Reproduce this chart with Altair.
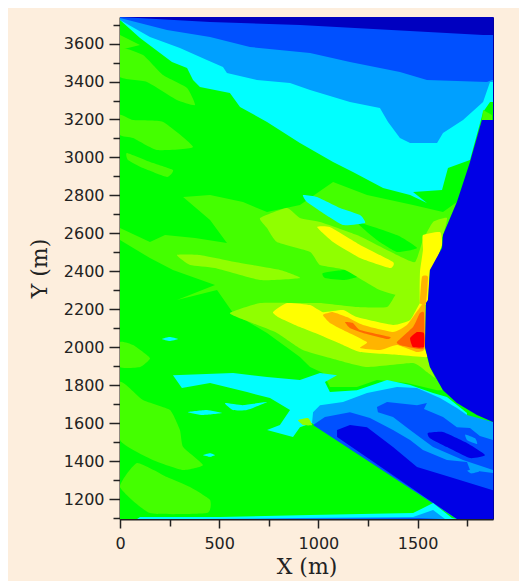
import altair as alt
import pandas as pd

X_DOMAIN = [0, 1880]
Y_DOMAIN = [1095, 3740]
X_MAJOR = [0, 500, 1000, 1500]
X_MINOR = [250, 750, 1250, 1750]
Y_MAJOR = [1200, 1400, 1600, 1800, 2000, 2200, 2400, 2600, 2800, 3000, 3200, 3400, 3600]
Y_MINOR = [1100, 1300, 1500, 1700, 1900, 2100, 2300, 2500, 2700, 2900, 3100, 3300, 3500, 3700]

LEVELS = ["deep", "navy", "blue", "sky", "cyan", "green", "lime", "yg", "yellow", "orange", "hot", "red"]
COLORS = ["#0000c0", "#0000e6", "#0050ff", "#00a0ff", "#00ffff", "#00ff00",
          "#44ff00", "#90ff00", "#ffff00", "#ffb400", "#ff6a00", "#ff0000"]

BASE = [(0, 1095), (1880, 1095), (1880, 3740), (0, 3740)]
CYAN_TOP = [(0,3724),(101,3629),(262,3503),(338,3471),(368,3408),(403,3371),(554,3340),(605,3266),(741,3187),(907,3076),(1074,2976),(1174,2923),(1326,2839),(1462,2802),(1547,2760),(1477,2818),(1623,2828),(1653,2944),(1764,2987),(1830,3239),(1865,3292),(1880,3292),(1880,3740),(0,3740)]
SKY_TOP = [(0,3724),(151,3635),(302,3577),(438,3514),(519,3477),(539,3445),(690,3408),(857,3392),(958,3355),(1159,3292),(1310,3261),(1351,3187),(1411,3102),(1462,3076),(1598,3076),(1628,3129),(1729,3197),(1830,3292),(1865,3398),(1880,3398),(1880,3740),(0,3740)]
BLUE_TOP = [(0,3735),(237,3672),(454,3635),(655,3582),(958,3550),(1159,3503),(1411,3450),(1547,3408),(1850,3398),(1875,3408),(1880,3408),(1880,3740),(0,3740)]
DEEP_TOP = [(0,3740),(1880,3740),(1880,3645),(1830,3645),(907,3698),(454,3714)]

LIME_A = [(0,3577),(116,3540),(217,3434),(338,3366),(378,3276),(287,3303),(136,3398),(0,3424)]
LIME_B = [(0,3645),(101,3592),(0,3566)]
LIME_C = [(0,3224),(66,3197),(217,3187),(368,3055),(186,3039),(66,3102),(0,3118)]
LIME_D = [(35,3023),(151,2976),(267,2934),(237,2897),(116,2944),(40,2987)]
LIME_MAIN = [(318,2792),(454,2802),(620,2765),(741,2712),(907,2749),(1074,2871),(1245,2802),(1477,2749),(1628,2712),(1698,2765),(1628,2591),(1562,2407),(1542,2233),(1537,2001),(1562,1896),(1628,1774),(1598,1774),(1446,1811),(1295,1827),(1194,1790),(1058,1790),(1023,1864),(958,1896),(907,1948),(741,2075),(570,2180),(489,2301),(287,2249),(479,2328),(267,2407),(151,2470),(0,2565),(0,2628),(151,2554),(227,2591),(378,2575),(539,2549),(454,2670)]
LIME_E = [(0,2027),(66,2012),(151,1943),(101,1896),(0,1896)]
LIME_F = [(0,1817),(116,1722),(252,1669),(302,1564),(318,1474),(418,1379),(318,1353),(166,1406),(0,1511)]
LIME_G = [(86,1390),(237,1316),(353,1263),(454,1195),(438,1126),(151,1126),(0,1263)]
GREEN_SLIVER = [(1194,2660),(1396,2591),(1497,2523),(1396,2502),(1295,2565)]
GREEN_SPOT = [(1023,2391),(1134,2407),(1225,2380),(1134,2354),(1033,2365)]

YG_UPPER = [(907,2681),(1008,2660),(1194,2591),(1396,2486),(1487,2449),(1527,2565),(1578,2660),(1648,2681),(1628,2591),(1562,2407),(1552,2249),(1487,2249),(1310,2301),(1134,2407),(1008,2433),(958,2502),(791,2554),(741,2628),(706,2681),(842,2734)]
YG_STREAK = [(287,2486),(403,2486),(580,2449),(806,2407),(907,2365),(706,2354),(479,2417),(353,2433)]
YG_CENTER = [(554,2180),(706,2233),(907,2233),(1008,2233),(1194,2212),(1346,2212),(1396,2286),(1497,2312),(1542,2249),(1537,2001),(1562,1896),(1588,1838),(1547,1869),(1477,1917),(1245,1896),(1094,1933),(922,1985),(791,2075),(655,2133)]
YELLOW_CENTER = [(771,2185),(842,2233),(958,2222),(1023,2185),(1124,2196),(1194,2159),(1376,2117),(1462,2143),(1512,2233),(1537,2233),(1537,1996),(1547,1948),(1411,1959),(1210,1975),(1124,2012),(1008,2064),(907,2106),(806,2154)]
YELLOW_STREAK = [(993,2633),(1058,2633),(1210,2539),(1376,2449),(1361,2417),(1210,2470),(1074,2554)]
YELLOW_EDGE = [(1527,2591),(1613,2607),(1623,2539),(1572,2396),(1562,2407),(1552,2233),(1512,2233),(1512,2396),(1527,2512)]
ORANGE_EDGE = [(1522,2370),(1552,2370),(1542,2233),(1512,2233)]
ORANGE_CENTER = [(1023,2170),(1074,2185),(1144,2159),(1225,2117),(1376,2080),(1446,2117),(1502,2196),(1537,2233),(1537,1996),(1497,1975),(1396,2012),(1310,1985),(1210,1996),(1245,2027),(1124,2091),(1058,2128)]
HOT_STREAK = [(1134,2133),(1174,2128),(1210,2091),(1361,2054),(1346,2043),(1225,2075),(1159,2101)]
HOT_CORE = [(1396,2027),(1477,2106),(1512,2180),(1532,2180),(1532,1996),(1477,1996),(1411,2012)]
RED_CORE = [(1462,2048),(1497,2080),(1532,2075),(1532,2001),(1477,2001)]

CYAN_BLOB = [(922,2802),(993,2792),(1109,2734),(1210,2697),(1235,2655),(1124,2644),(1023,2707),(942,2765)]
CYAN_DASH_A = [(212,2044),(250,2054),(292,2044),(250,2033)]
CYAN_DASH_B = [(343,1658),(438,1669),(514,1653),(418,1643)]
CYAN_DASH_C = [(529,1706),(620,1695),(741,1711),(640,1669),(570,1669)]
CYAN_DASH_D = [(418,1432),(454,1442),(479,1432),(454,1422)]
CYAN_MID = [(267,1853),(570,1864),(741,1843),(907,1827),(1008,1864),(1094,1853),(1033,1817),(1058,1764),(1194,1774),(1346,1827),(1462,1801),(1578,1759),(1648,1738),(1749,1653),(1698,1100),(968,1601),(907,1579),(872,1527),(741,1564),(806,1590),(857,1669),(756,1732),(640,1764),(454,1811),(312,1785)]
YG_SPOT = [(897,1616),(948,1627),(968,1590),(922,1590)]

SKY_LOW = [(973,1658),(1008,1695),(1124,1711),(1245,1759),(1396,1790),(1497,1785),(1613,1732),(1698,1680),(1749,1643),(1880,1606),(1880,1095),(1698,1095),(968,1601)]
BLUE_BAND = [(973,1590),(1033,1632),(1159,1658),(1260,1627),(1376,1564),(1462,1511),(1527,1458),(1648,1406),(1749,1395),(1764,1353),(1880,1337),(1880,1095),(1698,1095)]
BLUE_BLOB = [(1295,1685),(1346,1711),(1497,1695),(1547,1706),(1532,1674),(1628,1632),(1698,1579),(1764,1574),(1814,1532),(1880,1511),(1880,1353),(1729,1406),(1578,1474),(1462,1564),(1376,1632),(1300,1658)]
SKY_FLECK_A = [(1740,1540),(1790,1520),(1800,1490),(1750,1510)]
SKY_FLECK_B = [(1750,1350),(1790,1360),(1810,1345),(1770,1335)]
NAVY_LOW = [(1094,1527),(1094,1564),(1159,1590),(1245,1579),(1376,1474),(1497,1369),(1663,1316),(1880,1247),(1880,1095),(1698,1095)]
NAVY_BLOB = [(1552,1548),(1628,1553),(1749,1495),(1840,1432),(1764,1416),(1648,1474),(1562,1521)]

CYAN_FLOOR = [(86,1095),(101,1105),(504,1105),(958,1116),(1477,1126),(1578,1179),(1673,1100),(1698,1095)]
SKY_FLOOR = [(403,1095),(907,1100),(1477,1105),(1578,1142),(1638,1095)]
BLUE_FLOOR = [(706,1095),(1512,1100),(1613,1095)]

NAVY_WEDGE = [(1824,3197),(1880,3197),(1880,1606),(1799,1643),(1698,1706),(1628,1774),(1562,1896),(1537,2001),(1542,2233),(1552,2249),(1562,2407),(1623,2523),(1628,2591),(1698,2765),(1764,2976)]
LIME_TIP = [(1830,3250),(1875,3224),(1875,3197),(1824,3197)]

# (level, outline, rounded outline?)
PATCHES = [
    ("green", BASE, False), ("cyan", CYAN_TOP, False), ("sky", SKY_TOP, False), ("blue", BLUE_TOP, False), ("deep", DEEP_TOP, False),
    ("lime", LIME_A, True), ("lime", LIME_B, False), ("lime", LIME_C, True), ("lime", LIME_D, True), ("lime", LIME_MAIN, False),
    ("lime", LIME_E, True), ("lime", LIME_F, True), ("lime", LIME_G, True), ("green", GREEN_SLIVER, True), ("green", GREEN_SPOT, True),
    ("yg", YG_UPPER, True), ("yg", YG_STREAK, True), ("yg", YG_CENTER, True), ("yellow", YELLOW_CENTER, True),
    ("yellow", YELLOW_STREAK, True), ("yellow", YELLOW_EDGE, True), ("orange", ORANGE_EDGE, True), ("orange", ORANGE_CENTER, True),
    ("hot", HOT_STREAK, True), ("hot", HOT_CORE, True), ("red", RED_CORE, True),
    ("cyan", CYAN_BLOB, True), ("cyan", CYAN_DASH_A, True), ("cyan", CYAN_DASH_B, True), ("cyan", CYAN_DASH_C, True),
    ("cyan", CYAN_DASH_D, True), ("cyan", CYAN_MID, False), ("yg", YG_SPOT, True),
    ("sky", SKY_LOW, False), ("blue", BLUE_BAND, False), ("blue", BLUE_BLOB, False), ("sky", SKY_FLECK_A, True), ("sky", SKY_FLECK_B, True),
    ("navy", NAVY_LOW, False), ("navy", NAVY_BLOB, True),
    ("cyan", CYAN_FLOOR, False), ("sky", SKY_FLOOR, False), ("blue", BLUE_FLOOR, False),
    ("navy", NAVY_WEDGE, False), ("lime", LIME_TIP, False),
]

INK = "#222222"
x_scale = alt.Scale(domain=X_DOMAIN, nice=False, zero=False)
y_scale = alt.Scale(domain=Y_DOMAIN, nice=False, zero=False)
color_scale = alt.Scale(domain=LEVELS, range=COLORS)

x_axis = alt.Axis(values=X_MAJOR, format="d", title="X   (m)", tickSize=9, tickWidth=1.5, tickColor=INK,
                  domainColor=INK, domainWidth=2, grid=False, labelFont="DejaVu Sans", labelFontSize=16,
                  labelColor=INK, labelPadding=7, labelFlush=False, titleFont="DejaVu Serif", titleFontSize=22,
                  titleFontWeight="normal", titleColor=INK, titlePadding=5)
y_axis = alt.Axis(values=Y_MAJOR, format="d", title="Y   (m)", tickSize=11, tickWidth=1.5, tickColor=INK,
                  domainColor=INK, domainWidth=2, grid=False, labelFont="DejaVu Sans", labelFontSize=16,
                  labelColor=INK, labelPadding=5, labelFlush=False, titleFont="DejaVu Serif", titleFontSize=22,
                  titleFontWeight="normal", titleColor=INK, titlePadding=12)

layers = []
for pid, (level, pts, rounded) in enumerate(PATCHES):
    d = pd.DataFrame({"x": [p[0] for p in pts], "y": [p[1] for p in pts], "level": level, "i": range(len(pts))})
    curve = {"interpolate": "cardinal-closed", "tension": 0.55} if rounded else {"interpolate": "linear"}
    layers.append(
        alt.Chart(d).mark_line(filled=True, strokeWidth=0, clip=True, **curve).encode(
            x=alt.X("x:Q", scale=x_scale, axis=x_axis if pid == 0 else None),
            y=alt.Y("y:Q", scale=y_scale, axis=y_axis if pid == 0 else None),
            color=alt.Color("level:N", scale=color_scale, legend=None),
            order="i:Q",
        )
    )

minor_df = pd.DataFrame({"x": [X_DOMAIN[0]], "y": [Y_DOMAIN[0]]})
minor = alt.Chart(minor_df).mark_point(opacity=0).encode(
    x=alt.X("x:Q", scale=x_scale, axis=alt.Axis(values=X_MINOR, orient="bottom", labels=False, title=None,
            tickSize=7, tickWidth=1.5, tickColor=INK, domain=False, grid=False)),
    y=alt.Y("y:Q", scale=y_scale, axis=alt.Axis(values=Y_MINOR, orient="left", labels=False, title=None,
            tickSize=7, tickWidth=1.5, tickColor=INK, domain=False, grid=False)),
)

chart = alt.layer(*layers, minor).resolve_axis(x="independent", y="independent").properties(
    width=373, height=502,
    background="#fdeedd",
    autosize=alt.AutoSizeParams(type="none"),
    padding={"left": 112, "top": 9, "right": 26, "bottom": 62},
).configure_view(stroke="#0000a0", strokeWidth=1)

chart.save("out.html", embed_options={"renderer": "svg", "actions": False})
